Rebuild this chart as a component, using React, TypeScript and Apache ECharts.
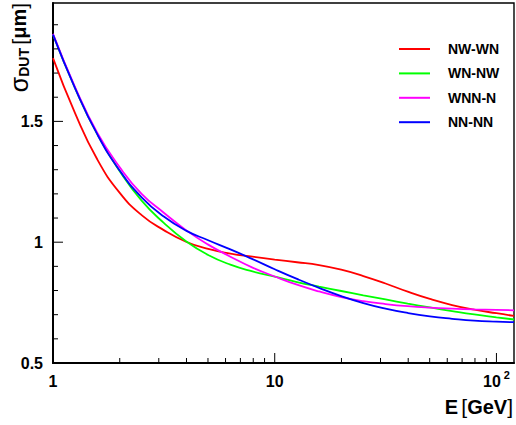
import React, { useEffect, useRef } from "react";
import * as echarts from "echarts";

// Beam energy E [GeV]
const energies = [1, 1.26, 1.585, 2, 2.51, 3.16, 3.98, 5.01, 6.31, 7.94, 10, 12.6, 15.85, 19.95, 25.1, 31.6, 39.8, 50.1, 63.1, 79.4, 100, 120];
// sigma_DUT [um] per telescope configuration
const nwwn = [1.762, 1.532, 1.342, 1.204, 1.112, 1.05, 1.002, 0.972, 0.953, 0.94, 0.928, 0.917, 0.905, 0.886, 0.86, 0.829, 0.795, 0.765, 0.74, 0.721, 0.706, 0.695];
const wnnw = [1.859, 1.636, 1.446, 1.294, 1.172, 1.08, 1.004, 0.947, 0.907, 0.879, 0.857, 0.835, 0.816, 0.798, 0.78, 0.763, 0.746, 0.73, 0.715, 0.701, 0.689, 0.68];
const wnnn = [1.862, 1.64, 1.452, 1.31, 1.2, 1.122, 1.05, 0.99, 0.94, 0.895, 0.858, 0.824, 0.796, 0.773, 0.756, 0.744, 0.735, 0.729, 0.725, 0.722, 0.72, 0.718];
const nnnn = [1.859, 1.636, 1.446, 1.296, 1.186, 1.106, 1.048, 1.008, 0.97, 0.93, 0.888, 0.848, 0.811, 0.777, 0.748, 0.725, 0.707, 0.693, 0.683, 0.675, 0.671, 0.669];

const seriesNames = ["NW-WN", "WN-NW", "WNN-N", "NN-NN"];
const seriesValues = [nwwn, wnnw, wnnn, nnnn];
const seriesColors = ["#ff0000", "#00ff00", "#ff00ff", "#0000ff"];

const xMin = 1;
const xMax = 120;
const yMin = 0.5;
const yMax = 1.99;

const xMinorTicks = [2, 3, 4, 5, 6, 7, 8, 9, 20, 30, 40, 50, 60, 70, 80, 90];
const xMajorTicks = [10, 100];
const yMinorTicks = [0.6, 0.7, 0.8, 0.9, 1.1, 1.2, 1.3, 1.4, 1.6, 1.7, 1.8, 1.9];
const yMajorTicks = [1, 1.5];
const xTickLabels: Record<number, string> = { 1: "{b|1}", 10: "{b|10}", 100: "{b|10}{s|2}" };

const FONT = "'Liberation Sans', Arial, Helvetica, sans-serif";

export default function App() {
  const ref = useRef<HTMLDivElement>(null);

  useEffect(() => {
    if (!ref.current) return;
    const chart = echarts.init(ref.current, null, { renderer: "svg" });

    const lineSeries = seriesNames.map((name, i) => ({
      name,
      type: "line",
      data: energies.map((e, j) => [e, seriesValues[i][j]]),
      smooth: 0.5,
      showSymbol: false,
      symbol: "none",
      lineStyle: { color: seriesColors[i], width: 1.8 },
      itemStyle: { color: seriesColors[i] },
      z: 3 + i,
    }));

    const xTickData = [
      ...xMinorTicks.map((v) => [v, yMin, 0]),
      ...xMajorTicks.map((v) => [v, yMin, 1]),
    ];
    const yTickData = [
      ...yMinorTicks.map((v) => [xMin, v, 0]),
      ...yMajorTicks.map((v) => [xMin, v, 1]),
    ];

    const option: any = {
      animation: false,
      textStyle: { fontFamily: FONT },
      grid: {
        left: 53,
        right: 2,
        top: 3,
        bottom: 62,
        show: true,
        borderColor: "#000",
        borderWidth: 1.4,
        backgroundColor: "transparent",
      },
      xAxis: {
        type: "log",
        logBase: 10,
        min: xMin,
        max: xMax,
        axisLine: { show: true, lineStyle: { color: "#000", width: 2 } },
        axisTick: { show: false },
        minorTick: { show: false },
        splitLine: { show: false },
        axisLabel: {
          margin: 6,
          showMaxLabel: false,
          formatter: (v: number) => xTickLabels[Math.round(v)] ?? "",
          rich: {
            b: { fontSize: 16, fontWeight: "bold", color: "#000", fontFamily: FONT, lineHeight: 16, padding: [8, 0, 0, 0] },
            s: { fontSize: 11, fontWeight: "bold", color: "#000", fontFamily: FONT, lineHeight: 11, verticalAlign: "top", padding: [0, 0, 0, 3] },
          },
        },
      },
      yAxis: {
        type: "value",
        min: yMin,
        max: yMax,
        interval: 0.5,
        axisLine: { show: true, lineStyle: { color: "#000", width: 2 } },
        axisTick: { show: false },
        minorTick: { show: false },
        splitLine: { show: false },
        axisLabel: {
          margin: 10,
          showMaxLabel: false,
          fontSize: 16,
          fontWeight: "bold",
          color: "#000",
          fontFamily: FONT,
        },
      },
      legend: {
        data: seriesNames,
        orient: "vertical",
        left: 399,
        top: 41,
        padding: 0,
        icon: "rect",
        itemWidth: 31,
        itemHeight: 2,
        itemGap: 8.4,
        textStyle: {
          fontFamily: FONT,
          fontWeight: "bold",
          fontSize: 14,
          color: "#000",
          lineHeight: 16,
          padding: [0, 0, 0, 13],
        },
      },
      graphic: [
        {
          type: "text",
          right: 3,
          top: 396,
          style: {
            text: "{b|E} {n|[}{b|GeV}{n|]}",
            rich: {
              b: { fontSize: 20, fontWeight: "bold", fill: "#000", fontFamily: FONT },
              n: { fontSize: 21, fontWeight: "normal", fill: "#000", fontFamily: FONT },
            },
          },
        },
        {
          type: "text",
          x: 19,
          y: 3,
          rotation: Math.PI / 2,
          style: {
            text: "{s|σ}{d|DUT} {n|[}{b|μm}{n|]}",
            align: "right",
            verticalAlign: "middle",
            rich: {
              s: { fontSize: 25, fill: "#000", fontFamily: FONT, lineHeight: 24 },
              d: { fontSize: 14, fontWeight: "bold", fill: "#000", fontFamily: FONT, lineHeight: 14, verticalAlign: "bottom" },
              b: { fontSize: 20, fontWeight: "bold", fill: "#000", fontFamily: FONT },
              n: { fontSize: 21, fontWeight: "normal", fill: "#000", fontFamily: FONT },
            },
          },
        },
      ],
      series: [
        ...lineSeries,
        {
          type: "custom",
          name: "xticks",
          data: xTickData,
          encode: { x: 0, y: 1 },
          silent: true,
          z: 10,
          renderItem: (_p: any, api: any) => {
            const pt = api.coord([api.value(0), api.value(1)]);
            const len = api.value(2) ? 10 : 5;
            return {
              type: "line",
              shape: { x1: pt[0], y1: pt[1], x2: pt[0], y2: pt[1] - len },
              style: { stroke: "#000", lineWidth: 1 },
            };
          },
        },
        {
          type: "custom",
          name: "yticks",
          data: yTickData,
          encode: { x: 0, y: 1 },
          silent: true,
          z: 10,
          renderItem: (_p: any, api: any) => {
            const pt = api.coord([api.value(0), api.value(1)]);
            const len = api.value(2) ? 10 : 5;
            return {
              type: "line",
              shape: { x1: pt[0], y1: pt[1], x2: pt[0] + len, y2: pt[1] },
              style: { stroke: "#000", lineWidth: 1 },
            };
          },
        },
      ],
    };

    chart.setOption(option);
    return () => chart.dispose();
  }, []);

  return (
    <div
      ref={ref}
      style={{ position: "absolute", left: 0, top: 0, width: 516, height: 425, background: "#fff" }}
    />
  );
}
